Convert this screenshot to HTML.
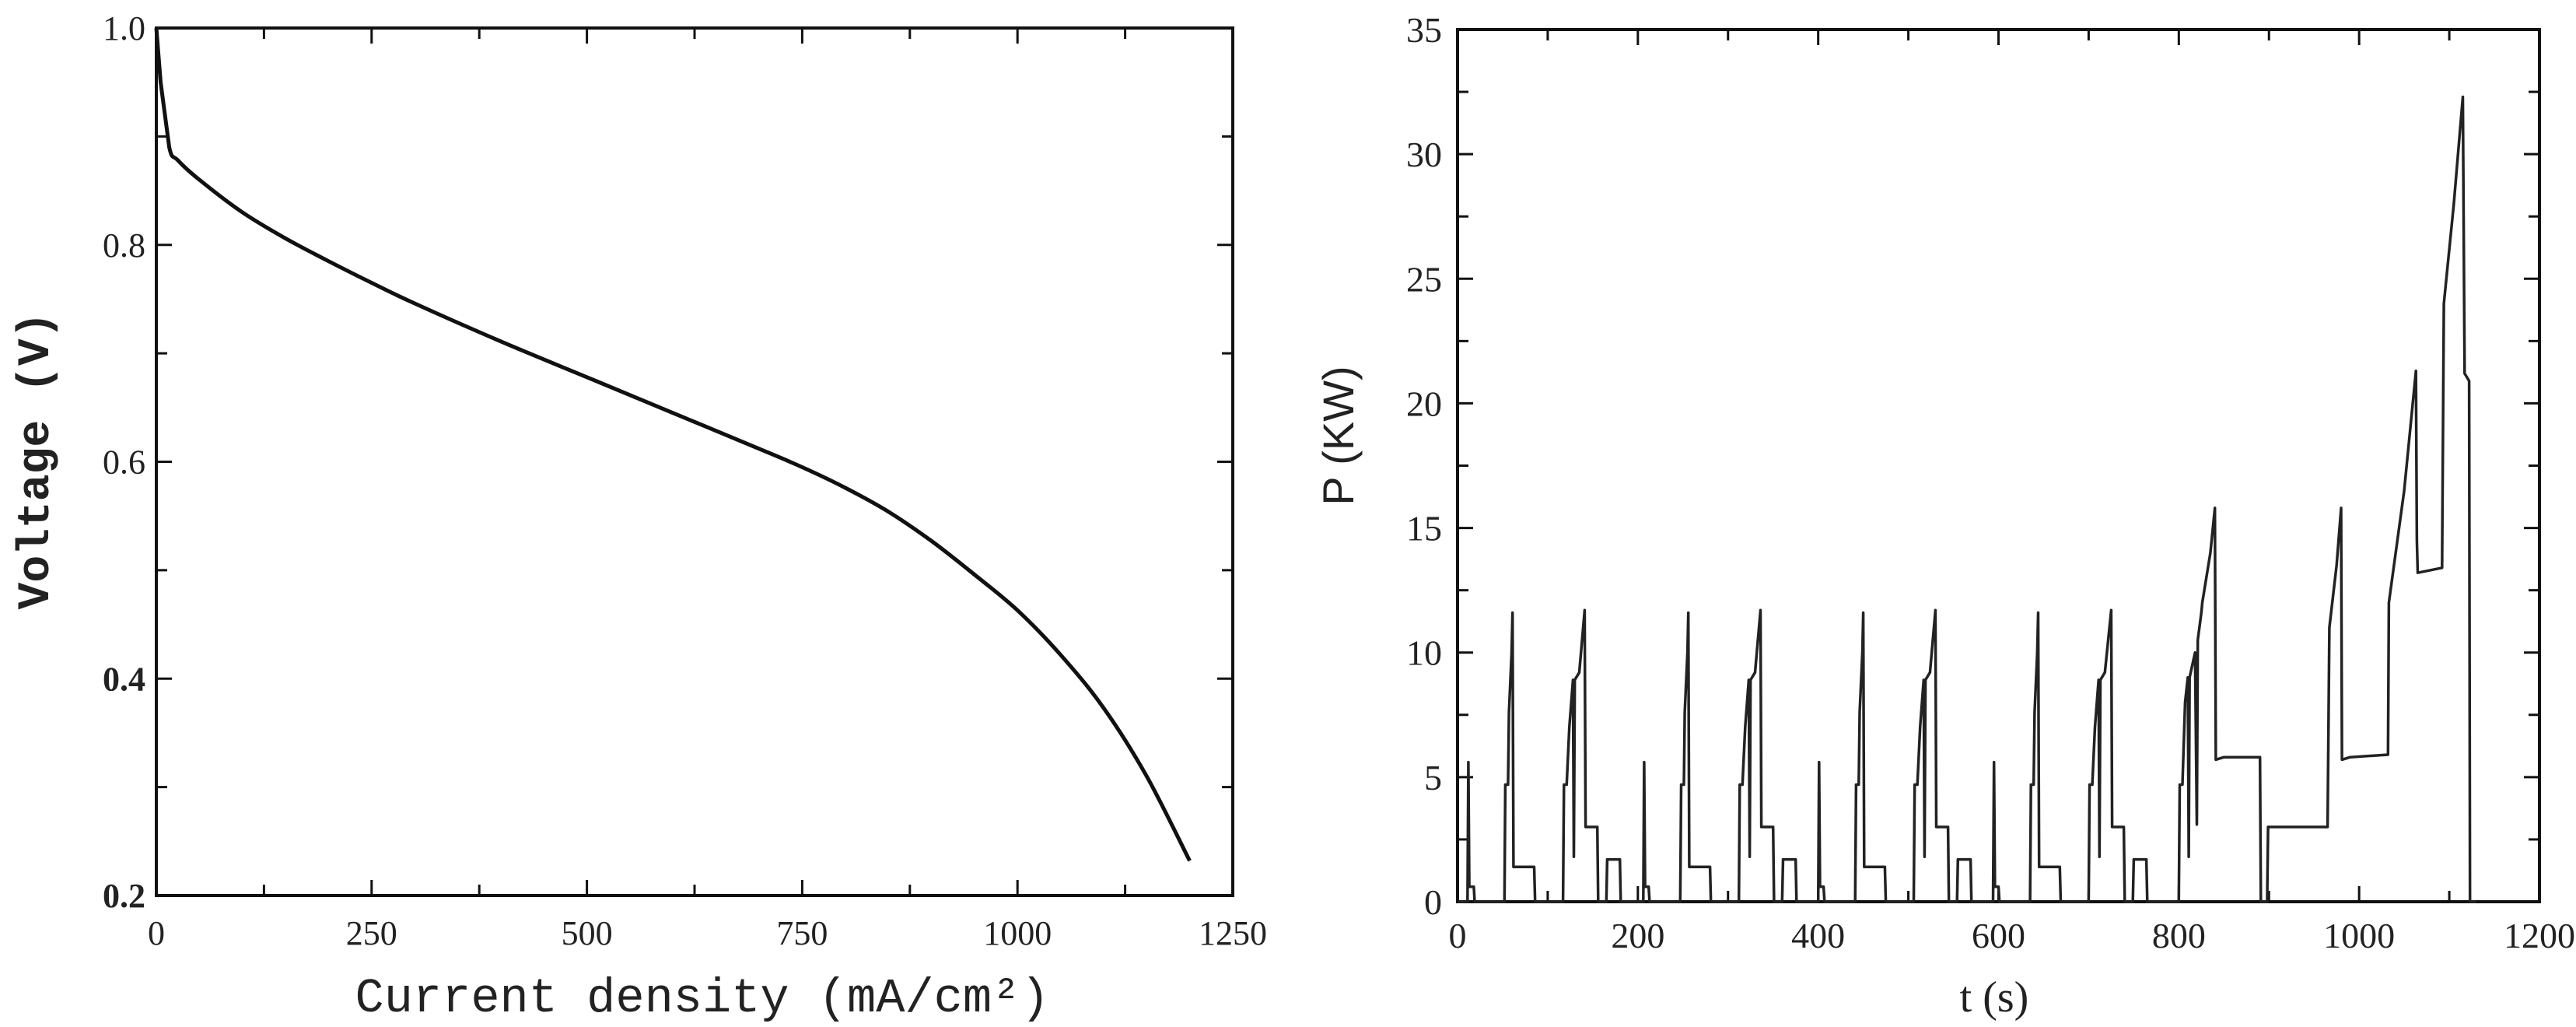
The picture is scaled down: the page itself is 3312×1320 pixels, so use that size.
<!DOCTYPE html>
<html><head><meta charset="utf-8">
<style>
html,body{margin:0;padding:0;background:#fff;}
svg{display:block;}
</style></head>
<body>
<svg id="fig" width="3312" height="1320" viewBox="0 0 3312 1320" xmlns="http://www.w3.org/2000/svg">
<rect width="3312" height="1320" fill="#fff"/>
<g id="left"></g>
<g id="right"></g>
</svg>
<script>
// Left chart data
const currentDensity = [0,5,15,25,50,100,150,200,250,300,400,500,600,700,750,800,850,900,950,1000,1050,1100,1150,1200];
const voltage = [1.0,0.95,0.89,0.878,0.86,0.83,0.806,0.785,0.765,0.746,0.711,0.678,0.645,0.612,0.595,0.576,0.554,0.527,0.496,0.463,0.422,0.373,0.31,0.232];
const leftXTicks = ["0","250","500","750","1000","1250"];
const leftYTicks = ["0.2","0.4","0.6","0.8","1.0"];

// Right chart data
const timeS = [0,11,12,13,18,19,52,53,56,57,60,61,62,85,86,117,118,121,124,128,129,130,135,141,142,155,156,165,166,180,181,
206,207,208,212,213,247,248,251,252,255,256,257,280,281,312,313,316,319,323,324,325,330,336,337,350,351,360,361,375,376,
400,401,402,406,407,441,442,445,446,449,450,451,474,475,506,507,510,513,517,518,519,524,530,531,544,545,554,555,569,570,
594,595,596,600,601,635,636,639,640,643,644,645,668,669,700,701,704,707,711,712,713,718,725,726,739,740,749,750,764,765,
800,801,804,807,810,811,812,818,820,821,825,826,835,840,841,850,890,891,898,899,965,967,975,980,981,990,1032,1033,1050,1063,1064,1065,1092,1094,1105,1115,1117,1122,1123,1130];
const powerKW = [0,0,5.6,0.6,0.6,0,0,4.7,4.7,7.6,10,11.6,1.4,1.4,0,0,4.7,4.7,7,8.9,1.8,8.9,9.2,11.7,3.0,3.0,0,0,1.7,1.7,0,
0,5.6,0.6,0.6,0,0,4.7,4.7,7.6,10,11.6,1.4,1.4,0,0,4.7,4.7,7,8.9,1.8,8.9,9.2,11.7,3.0,3.0,0,0,1.7,1.7,0,
0,5.6,0.6,0.6,0,0,4.7,4.7,7.6,10,11.6,1.4,1.4,0,0,4.7,4.7,7,8.9,1.8,8.9,9.2,11.7,3.0,3.0,0,0,1.7,1.7,0,
0,5.6,0.6,0.6,0,0,4.7,4.7,7.6,10,11.6,1.4,1.4,0,0,4.7,4.7,7,8.9,1.8,8.9,9.2,11.7,3.0,3.0,0,0,1.7,1.7,0,
0,4.7,4.7,8,9,1.8,9,10,3.1,10.5,11.6,12,14,15.8,5.7,5.8,5.8,0,0,3.0,3.0,11,13.5,15.8,5.7,5.8,5.9,12,16.5,21.3,14.5,13.2,13.4,24,28,32.3,21.2,20.9,0,0];
const rightXTicks = ["0","200","400","600","800","1000","1200"];
const rightYTicks = ["0","5","10","15","20","25","30","35"];

const NS="http://www.w3.org/2000/svg";
function mk(parent,tag,attrs,text){const e=document.createElementNS(NS,tag);for(const k in attrs)e.setAttribute(k,attrs[k]);if(text!==undefined)e.textContent=text;parent.appendChild(e);return e;}

// ---------- Left ----------
(function(){
const g=document.getElementById('left');
const L=201,R=1585,T=36,B=1151;
const x=v=>L+(v-0)/1250*(R-L);
const y=v=>B-(v-0.2)/0.8*(B-T);
const frame=mk(g,'rect',{x:L,y:T,width:R-L,height:B-T,fill:'none',stroke:'#111','stroke-width':4});


for(let v=0;v<=1250;v+=125){const major=(v%250===0);const len=major?20:14;
 mk(g,'line',{x1:x(v),x2:x(v),y1:B,y2:B-len,stroke:'#111','stroke-width':3});
 mk(g,'line',{x1:x(v),x2:x(v),y1:T,y2:T+len,stroke:'#111','stroke-width':3});}
for(let i=0;i<=8;i++){const v=0.2+i*0.1;const len=(i%2===0)?20:14;
 mk(g,'line',{x1:L,x2:L+len,y1:y(v),y2:y(v),stroke:'#111','stroke-width':3});
 mk(g,'line',{x1:R,x2:R-len,y1:y(v),y2:y(v),stroke:'#111','stroke-width':3});}
leftXTicks.forEach(s=>{const t=mk(g,'text',{x:x(+s),y:1214,'text-anchor':'middle','font-family':'Liberation Serif, serif','font-size':44,fill:'#222'},s);
 });
leftYTicks.forEach(s=>{const t=mk(g,'text',{x:L-14,y:y(+s)+15,'text-anchor':'end','font-family':'Liberation Serif, serif','font-size':44,fill:'#222','font-weight':(+s<=0.4?'bold':'normal')},s);
 });
const xt=mk(g,'text',{x:903,y:1300,'text-anchor':'middle','font-family':'Liberation Mono, monospace','font-size':62,fill:'#222'},'Current density (mA/cm²)');

const yt=mk(g,'text',{x:0,y:0,transform:'translate(62,592) rotate(-90)','text-anchor':'middle','font-family':'Liberation Mono, monospace','font-size':58,'font-weight':'bold',fill:'#222'},'Voltage (V)');

// Catmull-Rom smoothing through data points
const pts=currentDensity.map((c,i)=>[x(c),y(voltage[i])]);
let d='M'+pts[0][0].toFixed(1)+','+pts[0][1].toFixed(1);
for(let i=0;i<pts.length-1;i++){
 const p0=pts[Math.max(0,i-1)],p1=pts[i],p2=pts[i+1],p3=pts[Math.min(pts.length-1,i+2)];
 const k=(i<2)?0:1/6;
 const c1=[p1[0]+(p2[0]-p0[0])*k,p1[1]+(p2[1]-p0[1])*k];
 const c2=[p2[0]-(p3[0]-p1[0])*k,p2[1]-(p3[1]-p1[1])*k];
 d+=' C'+c1[0].toFixed(1)+','+c1[1].toFixed(1)+' '+c2[0].toFixed(1)+','+c2[1].toFixed(1)+' '+p2[0].toFixed(1)+','+p2[1].toFixed(1);
}
const p=mk(g,'path',{d:d,fill:'none',stroke:'#111','stroke-width':5,'stroke-linejoin':'round'});

})();

// ---------- Right ----------
(function(){
const g=document.getElementById('right');
const L=1874,R=3265,T=38,B=1159;
const x=v=>L+v/1200*(R-L);
const y=v=>B-v/35*(B-T);
const frame=mk(g,'rect',{x:L,y:T,width:R-L,height:B-T,fill:'none',stroke:'#111','stroke-width':4});


for(let v=0;v<=1200;v+=100){const len=(v%200===0)?20:14;
 mk(g,'line',{x1:x(v),x2:x(v),y1:B,y2:B-len,stroke:'#111','stroke-width':3});
 mk(g,'line',{x1:x(v),x2:x(v),y1:T,y2:T+len,stroke:'#111','stroke-width':3});}
for(let i=0;i<=14;i++){const v=i*2.5;const len=(i%2===0)?20:14;
 mk(g,'line',{x1:L,x2:L+len,y1:y(v),y2:y(v),stroke:'#111','stroke-width':3});
 mk(g,'line',{x1:R,x2:R-len,y1:y(v),y2:y(v),stroke:'#111','stroke-width':3});}
rightXTicks.forEach(s=>{const t=mk(g,'text',{x:x(+s),y:1218,'text-anchor':'middle','font-family':'Liberation Serif, serif','font-size':46,fill:'#222'},s);
 });
rightYTicks.forEach(s=>{const t=mk(g,'text',{x:L-20,y:y(+s)+16,'text-anchor':'end','font-family':'Liberation Serif, serif','font-size':46,fill:'#222'},s);
 });
const xt=mk(g,'text',{x:2564,y:1300,'text-anchor':'middle','font-family':'Liberation Serif, serif','font-size':56,fill:'#222'},'t (s)');

const yt=mk(g,'text',{x:0,y:0,transform:'translate(1740,560) rotate(-90)','text-anchor':'middle','font-family':'Liberation Sans, sans-serif','font-size':56,fill:'#222'},'P (KW)');

const d=timeS.map((t,i)=>(i?'L':'M')+x(t).toFixed(1)+','+y(powerKW[i]).toFixed(1)).join(' ');
const p=mk(g,'path',{d:d,fill:'none',stroke:'#222','stroke-width':3.5,'stroke-linejoin':'round'});

})();
</script>
</body></html>
